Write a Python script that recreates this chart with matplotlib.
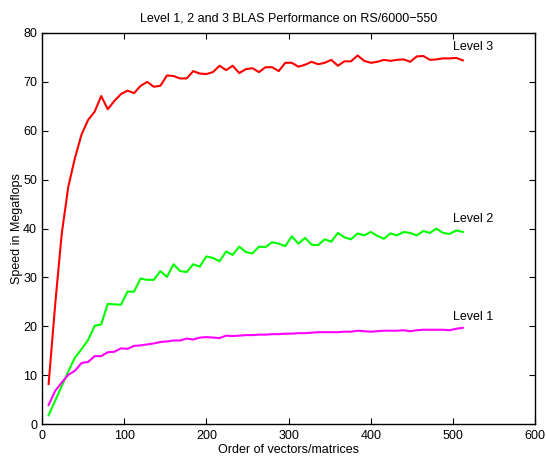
import matplotlib
matplotlib.use("Agg")
import matplotlib.pyplot as plt
import numpy as np

plt.rcParams['font.family'] = ['Liberation Sans', 'DejaVu Sans']

order = list(range(8, 513, 8))

level3 = [8.2, 24.5, 39.0, 48.6, 54.4, 59.2, 62.2, 63.9, 67.1, 64.4,
          66.1, 67.5, 68.2, 67.7, 69.2, 70.0, 69.0, 69.2, 71.3, 71.2,
          70.7, 70.7, 72.2, 71.7, 71.6, 72.0, 73.3, 72.4, 73.3, 71.8,
          72.6, 72.8, 72.0, 73.0, 73.0, 72.2, 73.9, 73.9, 73.1, 73.5,
          74.1, 73.6, 73.9, 74.5, 73.3, 74.2, 74.2, 75.4, 74.3, 73.9,
          74.1, 74.5, 74.3, 74.5, 74.6, 74.1, 75.2, 75.3, 74.5, 74.6,
          74.8, 74.8, 74.9, 74.4]

level2 = [1.8, 4.8, 7.8, 10.8, 13.6, 15.3, 17.2, 20.1, 20.4, 24.6,
          24.5, 24.4, 27.1, 27.1, 29.8, 29.5, 29.5, 31.3, 30.1, 32.7,
          31.3, 31.1, 32.7, 32.2, 34.3, 34.0, 33.3, 35.3, 34.6, 36.3,
          35.2, 34.9, 36.3, 36.2, 37.2, 36.9, 36.4, 38.4, 36.9, 38.1,
          36.7, 36.6, 37.8, 37.3, 39.1, 38.2, 37.8, 39.0, 38.6, 39.3,
          38.5, 37.9, 39.0, 38.6, 39.3, 39.1, 38.6, 39.5, 39.1, 40.0,
          39.1, 38.9, 39.6, 39.3]

level1 = [3.9, 6.8, 8.5, 10.1, 10.9, 12.5, 12.7, 13.9, 13.9, 14.7,
          14.8, 15.5, 15.4, 16.0, 16.1, 16.3, 16.5, 16.8, 16.9, 17.1,
          17.1, 17.5, 17.3, 17.7, 17.8, 17.7, 17.6, 18.1, 18.0, 18.1,
          18.2, 18.2, 18.3, 18.3, 18.4, 18.4, 18.5, 18.5, 18.6, 18.6,
          18.7, 18.8, 18.8, 18.8, 18.8, 18.9, 18.9, 19.1, 19.0, 18.9,
          19.0, 19.1, 19.1, 19.1, 19.2, 19.0, 19.2, 19.3, 19.3, 19.3,
          19.3, 19.2, 19.5, 19.7]

labels = ["Level 3", "Level 2", "Level 1"]
label_pos = [(500, 77.2), (500, 42.0), (500, 22.0)]

fig = plt.figure(figsize=(5.46, 4.58), dpi=100)
ax = fig.add_axes([0.077, 0.074, 0.903, 0.854])

ax.plot(order, level3, color='#ff0000', lw=1.5)
ax.plot(order, level2, color='#00ff00', lw=1.5)
ax.plot(order, level1, color='#ff00ff', lw=1.5)

for lab, (x, y) in zip(labels, label_pos):
    ax.text(x, y, lab, fontsize=9, ha='left', va='center')

ax.set_xlim(0, 600)
ax.set_ylim(0, 80)
ax.set_xticks(range(0, 601, 100))
ax.set_yticks(range(0, 81, 10))
ax.tick_params(direction='in', top=True, right=True, labelsize=9, length=4)
ax.tick_params(axis='x', pad=4)
for s in ax.spines.values():
    s.set_linewidth(1.0)
ax.set_title("Level 1, 2 and 3 BLAS Performance on RS/6000\u2212550", fontsize=9, pad=8)
ax.set_xlabel("Order of vectors/matrices", fontsize=9, labelpad=2)
ax.set_ylabel("Speed in Megaflops", fontsize=9, labelpad=0)

fig.savefig("out.png", dpi=100)
